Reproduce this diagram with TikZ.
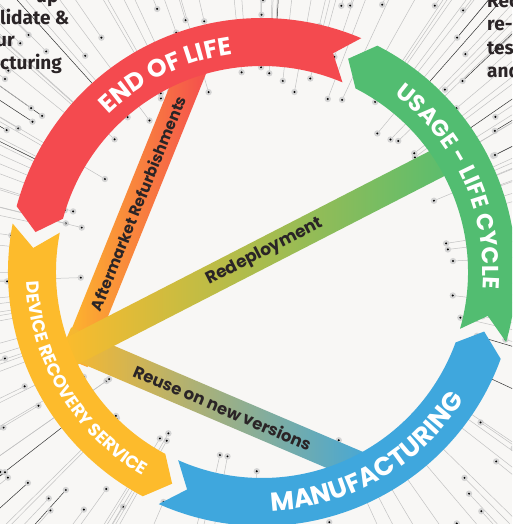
\documentclass[tikz,border=0pt]{standalone}
\usepackage{fontspec}
\newfontfamily\arcfont{Poppins}
\newfontfamily\notefont{Fira Sans}
\usetikzlibrary{calc,decorations.text}
\definecolor{paper}{HTML}{F8F7F5}
\definecolor{segred}{HTML}{F44A4F}
\definecolor{seggreen}{HTML}{52BD71}
\definecolor{segblue}{HTML}{3FA7DD}
\definecolor{segyellow}{HTML}{FDBB2C}
\definecolor{ink}{HTML}{2A2426}
\tikzstyle{band} = [rectangle, inner sep=0pt, minimum height=29pt, anchor=west]
\tikzstyle{bandlabel} = [font=\arcfont\bfseries\fontsize{15.5}{15.5}\selectfont, text=ink, inner sep=0pt]
\tikzstyle{note} = [font=\notefont\bfseries\fontsize{19}{19}\selectfont, text=ink, anchor=base west, inner sep=0pt]
\tikzstyle{ray} = [line width=0.5pt]
\tikzstyle{pin} = [fill=black!17]
\tikzstyle{arclabel} = [decorate, decoration={text along path, text align=center, text color=white}]

\begin{document}
\begin{tikzpicture}[x=1pt, y=1pt]
  \useasboundingbox (0,0) rectangle (512,-524);
  \fill[paper] (0,0) rectangle (512,-524);
  \clip (0,0) rectangle (512,-524);

  \begin{scope}[shift={(262,-272)}]
    \pgfmathsetseed{42}
    \foreach \i in {1,...,270}{
      \pgfmathsetmacro\rayang{360*rnd}
      \pgfmathsetmacro\rayrad{180+180*rnd}
      \pgfmathsetmacro\raytone{rnd<0.14 ? 80 : 24}
      \draw[ray, draw=black!\raytone] (\rayang:\rayrad) -- (\rayang:420);
      \fill[pin] (\rayang:\rayrad) circle[radius=3.2pt];
      \fill[black] (\rayang:\rayrad) circle[radius=1.1pt];
    }
  \end{scope}

  \coordinate (hub) at (80,-347);
  \node[band, rotate=68, minimum width=336pt, left color=segyellow, middle color={rgb,255:red,245;green,138;blue,59}, right color=segred] (aftermarket) at ($(hub)+(248:16)$) {};
  \node[band, rotate=-23.1, minimum width=336pt, left color=segyellow!95!orange, middle color={rgb,255:red,205;green,178;blue,110}, right color=segblue] (reuse) at ($(hub)+(156.9:16)$) {};
  \node[band, rotate=27.2, minimum width=446pt, left color=segyellow, middle color={rgb,255:red,184;green,186;blue,76}, right color=seggreen] (redeploy) at ($(hub)+(207.2:16)$) {};

  \node[bandlabel, rotate=68] (aftermarketlbl) at ($(hub)+(68:155)$) {Aftermarket Refurbishments};
  \node[bandlabel, rotate=27.2, font=\arcfont\bfseries\fontsize{17}{17}\selectfont] (redeploylbl) at ($(hub)+(27.2:208)$) {Redeployment};
  \node[bandlabel, rotate=-23.1, font=\arcfont\bfseries\fontsize{16.5}{16.5}\selectfont] (reuselbl) at ($(hub)+(-23.1:155)$) {Reuse on new versions};

  \begin{scope}[shift={(262,-272)}]
    \foreach \col/\t/\h in {segblue/246/340, seggreen/344/423, segred/67/165, segyellow/169/242}{
      \fill[\col] (\t:254) -- ({\t+5}:230) -- (\t:206) arc[start angle=\t, end angle=\h, radius=206pt]
        -- ({\h+5}:230) -- (\h:254) arc[start angle=\h, end angle=\t, radius=254pt] -- cycle;
    }
    \path[arclabel, decoration={text={|\arcfont\bfseries\fontsize{25}{25}\selectfont|END OF LIFE}}]
      (162:220) arc[start angle=162, end angle=70, radius=220pt];
    \path[arclabel, decoration={text={|\arcfont\bfseries\fontsize{23}{23}\selectfont|USAGE - LIFE CYCLE}}]
      (62:221) arc[start angle=62, end angle=-13, radius=221pt];
    \path[arclabel, decoration={text={|\arcfont\bfseries\fontsize{26}{26}\selectfont|MANUFACTURING}}]
      (250:239) arc[start angle=250, end angle=350, radius=239pt];
    \path[arclabel, decoration={text={|\arcfont\bfseries\fontsize{17.5}{17.5}\selectfont|DEVICE RECOVERY SERVICE}}]
      (172:236) arc[start angle=172, end angle=250, radius=236pt];
  \end{scope}

  \node[note] (leftA) at (36,-3) {up};
  \node[note] (leftB) at (0,-25) {lidate \&};
  \node[note] (leftC) at (-4,-47) {ur};
  \node[note] (leftD) at (0,-70) {cturing};
  \node[note] (rightA) at (487,-8) {Rec};
  \node[note] (rightB) at (487,-31) {re-p};
  \node[note] (rightC) at (487,-55) {tes};
  \node[note] (rightD) at (487,-78) {and};
\end{tikzpicture}
\end{document}
